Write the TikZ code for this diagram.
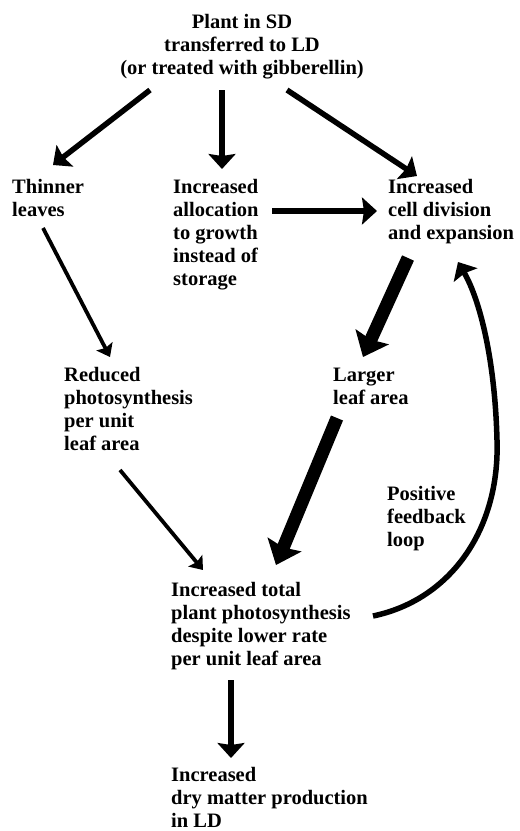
\documentclass[tikz,border=0pt]{standalone}
\usepackage{fontspec}
\setmainfont{Liberation Serif}
\usetikzlibrary{arrows.meta,calc}
\tikzset{
  txt/.style      = {anchor=north west, align=left, inner sep=0pt,
                     font=\fontsize{20.5}{23}\selectfont\bfseries},
  flow/.style     = {-{Stealth[length=15pt,width=27pt,inset=2pt]}, line width=5.5pt},
  thinflow/.style = {-{Stealth[length=12pt,width=18pt,inset=2pt]}, line width=3.8pt},
  bigflow/.style  = {-{Stealth[length=22pt,width=36pt,inset=3pt]}, line width=13pt},
}
\begin{document}
\begin{tikzpicture}[x=1pt,y=-1pt]
  \useasboundingbox (0,0) rectangle (520,831);
  % statements
  \node[txt, anchor=north, align=center] (plant) at (242,14.5)
    {Plant in SD\\transferred to LD\\(or treated with gibberellin)};
  \node[txt] (thin)    at (12,179.5)  {Thinner\\leaves};
  \node[txt] (alloc)   at (173,179.5) {Increased\\allocation\\to growth\\instead of\\storage};
  \node[txt] (cell)    at (388,179.5) {Increased\\cell division\\and expansion};
  \node[txt] (reduced) at (64,367.5)  {Reduced\\photosynthesis\\per unit\\leaf area};
  \node[txt] (larger)  at (333,367.5) {Larger\\leaf area};
  \node[txt] (loop)    at (387,486.5) {Positive\\feedback\\loop};
  \node[txt] (total)   at (171,582.5) {Increased total\\plant photosynthesis\\despite lower rate\\per unit leaf area};
  \node[txt] (dry)     at (171,767.5) {Increased\\dry matter production\\in LD};
  % arrows
  \draw[flow] ($(plant.north)+(-92,75.5)$) -- ($(thin.north west)+(41,-14.5)$);
  \draw[flow] ($(plant.north)+(-20,75.5)$) -- ($(alloc.north west)+(49,-10.5)$);
  \draw[flow] ($(plant.north)+(45,75.5)$) -- ($(cell.north west)+(29,-3.5)$);
  \draw[flow] ($(alloc.north west)+(99,31.5)$) -- ($(cell.north west)+(-11,31.5)$);
  \draw[thinflow] ($(thin.north west)+(31,48.5)$) -- ($(reduced.north west)+(46,-10.5)$);
  \draw[bigflow] ($(cell.north west)+(20,78.5)$) -- ($(larger.north west)+(30,-10.5)$);
  \draw[thinflow] ($(reduced.north west)+(56,102.5)$) -- ($(total.north west)+(32,-12.5)$);
  \draw[bigflow] ($(larger.north west)+(4,50.5)$) -- ($(total.north west)+(105,-17.5)$);
  \draw[flow] ($(total.north west)+(202,33.5)$) .. controls (450,600) and (500,530) .. (497,440)
    .. controls (495,360) and (480,300) .. ($(cell.north west)+(70,82.5)$);
  \draw[flow] ($(total.north west)+(60,97.5)$) -- ($(dry.north west)+(60,-9.5)$);
\end{tikzpicture}
\end{document}
